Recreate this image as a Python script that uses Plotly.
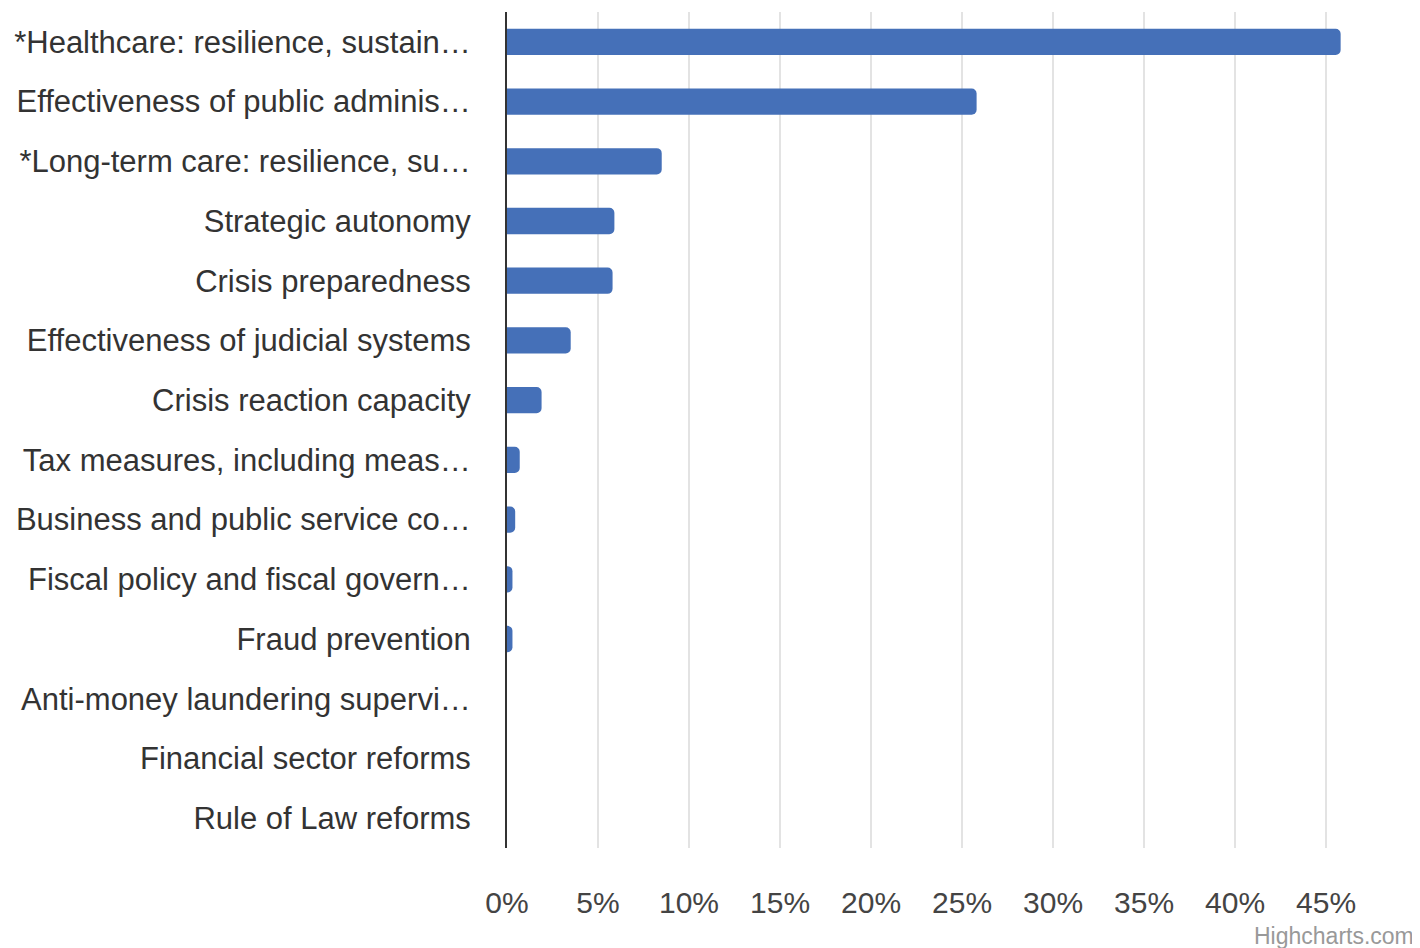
import plotly.graph_objects as go

categories = [
    "*Healthcare: resilience, sustain…",
    "Effectiveness of public adminis…",
    "*Long-term care: resilience, su…",
    "Strategic autonomy",
    "Crisis preparedness",
    "Effectiveness of judicial systems",
    "Crisis reaction capacity",
    "Tax measures, including meas…",
    "Business and public service co…",
    "Fiscal policy and fiscal govern…",
    "Fraud prevention",
    "Anti-money laundering supervi…",
    "Financial sector reforms",
    "Rule of Law reforms",
]
values = [45.8, 25.8, 8.5, 5.9, 5.8, 3.5, 1.9, 0.7, 0.45, 0.3, 0.3, 0, 0, 0]
tick_vals = [0, 5, 10, 15, 20, 25, 30, 35, 40, 45, 50]
tick_text = ["0%", "5%", "10%", "15%", "20%", "25%", "30%", "35%", "40%", "45%", ""]

fig = go.Figure(go.Bar(
    x=values, y=categories, orientation="h",
    marker=dict(color="#4570b8", line=dict(width=0)),
    hovertemplate="%{y}: %{x}%<extra></extra>",
))

fig.update_layout(
    width=1412, height=940,
    margin=dict(l=499, r=2, t=4, b=100),
    paper_bgcolor="white", plot_bgcolor="white",
    bargap=0.56,
    barcornerradius=5,
    showlegend=False,
    font=dict(family="Liberation Sans, Arial, sans-serif", color="#333333"),
)
fig.update_xaxes(
    range=[0, 50.05], tickvals=tick_vals, ticktext=tick_text,
    showgrid=True, gridcolor="#e3e3e3", gridwidth=2,
    zeroline=False, showline=False, ticks="",
    tickfont=dict(size=30, color="#444444"),
    ticklabelstandoff=34,
)
fig.update_yaxes(
    categoryorder="array", categoryarray=categories, autorange="reversed",
    showline=True, linecolor="#333333", linewidth=2,
    showgrid=False, ticks="",
    tickfont=dict(size=31, color="#333333"),
    ticklabelstandoff=28,
)
fig.add_annotation(
    text="Highcharts.com", xref="paper", yref="paper", x=1, y=0,
    xanchor="right", yanchor="top", yshift=-73, xshift=-2, showarrow=False,
    font=dict(size=23, color="#999999"),
)
fig.write_html("out.html")
